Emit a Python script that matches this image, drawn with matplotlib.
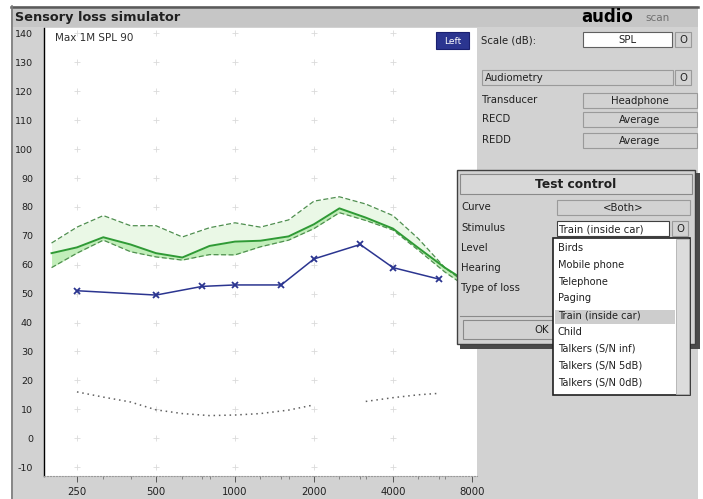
import numpy as np
import matplotlib
matplotlib.use('Agg')
import matplotlib.pyplot as plt
from matplotlib.patches import Rectangle

W, H = 703, 499

# ---------------- data ----------------
band_freq = [200, 250, 315, 400, 500, 630, 800, 1000, 1250, 1600, 2000, 2500, 3150, 4000, 5000, 6300, 8000]
stim_upper = [67.5, 73, 77, 73.5, 73.5, 69.6, 72.8, 74.5, 73, 75.5, 82, 83.5, 81, 77, 69, 59, 52]
stim_mid = [64, 66, 69.5, 67, 64, 62.5, 66.5, 68, 68.3, 69.8, 74, 79.5, 76.3, 72.5, 65.8, 59, 53]
stim_lower = [59, 64, 68.5, 64.5, 62.7, 61.6, 63.5, 63.4, 66.2, 68.5, 72.5, 78, 75.3, 72, 65, 57.5, 51]

aud_freq = [250, 500, 750, 1000, 1500, 2000, 3000, 4000, 6000]
aud_left = [51, 49.5, 52.5, 53, 53, 62, 67, 59, 55]

thr_freq = [250, 315, 400, 500, 630, 800, 1000, 1250, 1600, 2000, 2500, 3150, 4000, 5000, 6000]
thr_db = [16, 14.2, 12.5, 9.8, 8.5, 7.8, 8, 8.5, 9.7, 11.5, np.nan, 12.7, 14, 15, 15.5]

x_ticks = [250, 500, 1000, 2000, 4000, 8000]
x_tick_labels = ['250', '500', '1000', '2000', '4000', '8000']
x_minor = [315, 400, 630, 750, 800, 1250, 1500, 1600, 2500, 3000, 3150, 5000, 6000, 6300]
y_ticks = list(range(140, -20, -10))
y_tick_marks = [130, 120, 110, 80, 70, 60, 30, 10, -10]

stimulus_items = ['Birds', 'Mobile phone', 'Telephone', 'Paging', 'Train (inside car)',
                  'Child', 'Talkers (S/N inf)', 'Talkers (S/N 5dB)', 'Talkers (S/N 0dB)']

GREY = '#d2d2d2'
DARK = '#5a5a5a'
FS = 7.3

fig = plt.figure(figsize=(W / 100, H / 100), dpi=100)
fig.patch.set_facecolor('white')

# ---------------- background window ----------------
bg = fig.add_axes([0, 0, 1, 1], zorder=0)
bg.set_xlim(0, W); bg.set_ylim(H, 0); bg.axis('off')
bg.add_patch(Rectangle((11, 6), 687, 493, facecolor=GREY, edgecolor='none'))
bg.add_patch(Rectangle((11, 7), 687, 20, facecolor='#c6c6c6', edgecolor='none'))
bg.plot([11, 698], [6.5, 6.5], color=DARK, lw=1.8)
bg.plot([11.5, 11.5], [6, 499], color='#7a7a7a', lw=1.2)
bg.text(15, 17, 'Sensory loss simulator', fontsize=9.3, fontweight='bold', va='center', ha='left', color='#202020')

# ---------------- plot axes ----------------
ax = fig.add_axes([44 / W, 1 - 476 / H, 433 / W, 448 / H], zorder=1)
ax.set_facecolor('white')
ax.set_xscale('log', base=2)
ax.set_xlim(187.2, 8360)
ax.set_ylim(-13.1, 141.9)

# faint grid crosses
gx, gy = np.meshgrid(x_ticks[:-1], y_ticks)
ax.scatter(gx.ravel(), gy.ravel(), marker='+', s=14, color='#dadada', linewidths=0.6, zorder=1)

ax.fill_between(band_freq, stim_mid, stim_upper, color='#eaf8e6', lw=0, zorder=2)
ax.fill_between(band_freq, stim_lower, stim_mid, color='#c2eeba', lw=0, zorder=2)
ax.plot(band_freq, stim_upper, color='#4f8f4f', lw=0.9, ls=(0, (4, 2)), zorder=3)
ax.plot(band_freq, stim_lower, color='#4f8f4f', lw=0.9, ls=(0, (4, 2)), zorder=3)
ax.plot(band_freq, stim_mid, color='#2f9a35', lw=1.4, zorder=4)

ax.plot(aud_freq, aud_left, color='#2b3590', lw=1.1, marker='x', ms=5, mew=1.3, zorder=5)
ax.plot(thr_freq, thr_db, color='#606060', lw=1.1, ls=(0, (1, 2.5)), zorder=3)

ax.text(0.025, 0.988, 'Max 1M SPL 90', transform=ax.transAxes, fontsize=7.5, va='top', ha='left', color='#303030')

for s in ['top', 'right']:
    ax.spines[s].set_visible(False)
ax.spines['left'].set_color('black'); ax.spines['left'].set_linewidth(1.0)
ax.spines['bottom'].set_color('#9a9a9a'); ax.spines['bottom'].set_linestyle(':')

ax.set_yticks(y_ticks)
ax.set_yticklabels([str(v) for v in y_ticks])
ax.set_yticks(y_tick_marks, minor=True)
ax.tick_params(axis='y', which='major', length=0, pad=8, labelsize=6.8, labelcolor='#202020')
ax.tick_params(axis='y', which='minor', length=4, width=0.8, color='black')
ax.set_xticks(x_ticks)
ax.set_xticklabels(x_tick_labels)
ax.set_xticks(x_minor, minor=True)
ax.set_xticklabels([], minor=True)
ax.tick_params(axis='x', which='major', length=4, width=0.7, color='#555555', pad=4, labelsize=7.3, labelcolor='#202020')
ax.tick_params(axis='x', which='minor', length=2.5, width=0.6, color='#777777')

# ---------------- UI overlay ----------------
ui = fig.add_axes([0, 0, 1, 1], zorder=3)
ui.set_xlim(0, W); ui.set_ylim(H, 0); ui.axis('off')
ui.patch.set_alpha(0)


def box(x0, y0, x1, y1, face=GREY, text=None, tx=None, ha='center', fs=FS, edge='#9a9a9a', tcol='#202020', weight='normal', z=1):
    ui.add_patch(Rectangle((x0, y0), x1 - x0, y1 - y0, facecolor=face, edgecolor=edge, lw=0.8, zorder=z))
    if text is not None:
        if tx is None:
            tx = (x0 + x1) / 2
        ui.text(tx, (y0 + y1) / 2 + 0.5, text, fontsize=fs, ha=ha, va='center', color=tcol, fontweight=weight, zorder=z)


def label(x, y, s, fs=FS, **kw):
    ui.text(x, y, s, fontsize=fs, ha='left', va='center', color='#202020', **kw)


# logo
ui.text(581, 17, 'audio', fontsize=12, fontweight='bold', ha='left', va='center', color='black')
ui.text(645, 18, 'scan', fontsize=7.5, ha='left', va='center', color='#707070')

# Left button
box(436, 32, 469, 49, face='#2b3590', edge='#1a2070', text='Left', fs=6.5, tcol='white')

label(481, 40, 'Scale (dB):')
box(583, 32, 672, 47, face='white', edge='#606060', text='SPL')
box(675, 32, 691, 47, text='O')

box(482, 70, 673, 85, text='Audiometry', tx=485, ha='left')
box(675, 70, 691, 85, text='O')

label(482, 100, 'Transducer')
box(583, 93, 697, 108, text='Headphone')
label(482, 119, 'RECD')
box(583, 112, 697, 127, text='Average')
label(482, 140, 'REDD')
box(583, 133, 697, 148, text='Average')

# Test control dialog (shadow + body)
ui.add_patch(Rectangle((460, 173), 240, 176, facecolor='#4a4a4a', edgecolor='none', zorder=1))
ui.add_patch(Rectangle((457, 170), 238, 174, facecolor=GREY, edgecolor='#404040', lw=1.0, zorder=1))
box(460, 174, 692, 194, face='#d8d8d8', edge='#8a8a8a', text='Test control', fs=8.8, weight='bold')

label(461, 207, 'Curve')
box(557, 200, 690, 215, text='<Both>')
label(461, 228, 'Stimulus')
box(557, 221, 669, 236, face='white', edge='#404040', text='Train (inside car)', tx=559, ha='left')
box(672, 221, 688, 236, text='O')
label(461, 248, 'Level')
label(461, 268, 'Hearing')
label(461, 288, 'Type of loss')
ui.plot([460, 553], [316, 316], color='#8a8a8a', lw=0.8, zorder=1)
box(463, 320, 620, 339, text='OK', edge='#8a8a8a')

# Dropdown list (drawn on top)
ui.add_patch(Rectangle((553, 238), 137, 157, facecolor='white', edgecolor='#202020', lw=1.2, zorder=5))
ui.add_patch(Rectangle((676, 239), 13, 155, facecolor='#dcdcdc', edgecolor='#b0b0b0', lw=0.6, zorder=6))
ui.add_patch(Rectangle((555, 310), 120, 14, facecolor='#cdcdcd', edgecolor='none', zorder=6))
for i, item in enumerate(stimulus_items):
    ui.text(558, 248 + i * 16.8, item, fontsize=7.1, ha='left', va='center', color='#202020', zorder=7)

fig.savefig('out.png', dpi=100)
